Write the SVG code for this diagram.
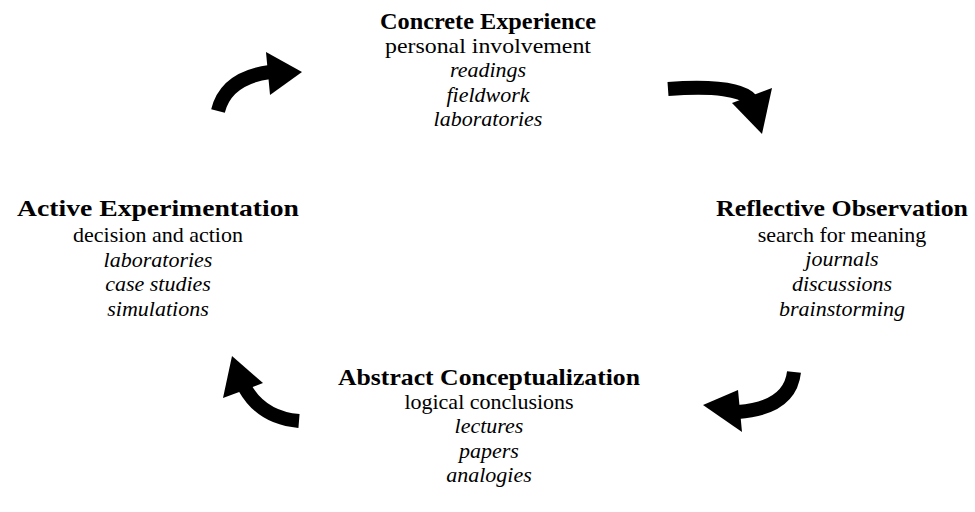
<svg xmlns="http://www.w3.org/2000/svg" width="975" height="512" viewBox="0 0 975 512">
<style>
text{font-family:"Liberation Serif","Times New Roman",serif;font-size:22px;fill:#000;text-anchor:middle}
.t{font-weight:bold;font-size:23px}
.i{font-style:italic}
.body{fill:none;stroke:#000;stroke-width:14;stroke-linecap:butt}
.head{fill:#000}
</style>
<rect width="975" height="512" fill="#fff"/>
<g id="concrete-experience">
<text class="t" x="488" y="29" textLength="216" lengthAdjust="spacingAndGlyphs">Concrete Experience</text>
<text x="488" y="53" textLength="206" lengthAdjust="spacingAndGlyphs">personal involvement</text>
<text class="i" x="488" y="77">readings</text>
<text class="i" x="488" y="102">fieldwork</text>
<text class="i" x="488" y="126">laboratories</text>
</g>
<g id="reflective-observation">
<text class="t" x="842" y="216" textLength="252" lengthAdjust="spacingAndGlyphs">Reflective Observation</text>
<text x="842" y="242">search for meaning</text>
<text class="i" x="842" y="266">journals</text>
<text class="i" x="842" y="291">discussions</text>
<text class="i" x="842" y="316">brainstorming</text>
</g>
<g id="abstract-conceptualization">
<text class="t" x="489" y="385" textLength="302" lengthAdjust="spacingAndGlyphs">Abstract Conceptualization</text>
<text x="489" y="409">logical conclusions</text>
<text class="i" x="489" y="433">lectures</text>
<text class="i" x="489" y="458">papers</text>
<text class="i" x="489" y="482">analogies</text>
</g>
<g id="active-experimentation">
<text class="t" x="158" y="216" textLength="282" lengthAdjust="spacingAndGlyphs">Active Experimentation</text>
<text x="158" y="242">decision and action</text>
<text class="i" x="158" y="267">laboratories</text>
<text class="i" x="158" y="291">case studies</text>
<text class="i" x="158" y="316">simulations</text>
</g>
<g id="connectors">
<path class="body" d="M218,111 Q226,78 270,72"/>
<polygon class="head" points="266,52 302,72 270,95"/>
<path class="body" d="M668,89 Q738,84 751,100"/>
<polygon class="head" points="732,103 772,88 762,134"/>
<path class="body" d="M794,372 Q790,408 738,412"/>
<polygon class="head" points="738,390 703,405 742,432"/>
<path class="body" d="M299,421 Q262,418 245,388"/>
<polygon class="head" points="223,398 232,356 263,383"/>
</g>
</svg>
